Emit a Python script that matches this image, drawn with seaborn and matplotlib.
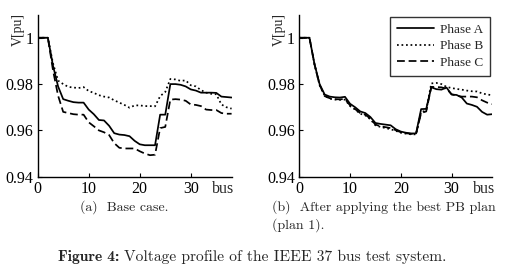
import numpy as np
import pandas as pd
import seaborn as sns
import matplotlib
matplotlib.use("Agg")
import matplotlib.pyplot as plt
import matplotlib.transforms as mtransforms

# ---------------- data ----------------
bus = list(range(0, 39))

base_a = [1.0, 1.0, 1.0, 0.988, 0.979, 0.9735, 0.9728, 0.9722, 0.972, 0.972,
          0.969, 0.967, 0.9645, 0.9643, 0.962, 0.9588, 0.9582, 0.958, 0.9575, 0.9555,
          0.954, 0.9536, 0.9536, 0.9536, 0.9668, 0.9668, 0.980, 0.980, 0.9797, 0.979,
          0.9777, 0.9772, 0.9763, 0.9763, 0.9763, 0.9762, 0.9746, 0.9744, 0.9742]
base_b = [1.0, 1.0, 1.0, 0.989, 0.9815, 0.980, 0.9788, 0.9785, 0.9783, 0.9787,
          0.977, 0.9762, 0.9752, 0.9746, 0.9742, 0.973, 0.972, 0.971, 0.9698, 0.9708,
          0.9708, 0.9705, 0.9705, 0.9704, 0.9748, 0.9766, 0.9822, 0.982, 0.9814, 0.9816,
          0.9795, 0.979, 0.9774, 0.9763, 0.9758, 0.9756, 0.9712, 0.970, 0.9694]
base_c = [1.0, 1.0, 1.0, 0.986, 0.975, 0.968, 0.9675, 0.967, 0.9668, 0.9668,
          0.9635, 0.9618, 0.960, 0.9592, 0.958, 0.9545, 0.9525, 0.9522, 0.9522, 0.9522,
          0.951, 0.950, 0.9493, 0.9495, 0.961, 0.9615, 0.9733, 0.9735, 0.9733, 0.9728,
          0.9712, 0.971, 0.9705, 0.969, 0.9688, 0.9688, 0.9675, 0.9672, 0.9672]

plan_a = [1.0, 1.0, 1.0, 0.9886, 0.980, 0.9755, 0.9746, 0.9743, 0.9742, 0.9745,
          0.9715, 0.970, 0.9682, 0.9675, 0.9658, 0.9632, 0.9628, 0.9625, 0.9622, 0.9605,
          0.9595, 0.959, 0.9587, 0.9587, 0.9692, 0.9693, 0.9786, 0.9778, 0.9776, 0.9785,
          0.9755, 0.9753, 0.9742, 0.9716, 0.971, 0.9702, 0.968, 0.9668, 0.967]
plan_b = [1.0, 1.0, 1.0, 0.9884, 0.9795, 0.975, 0.9737, 0.9733, 0.9732, 0.9733,
          0.9705, 0.969, 0.9672, 0.9665, 0.9648, 0.9622, 0.9615, 0.961, 0.9605, 0.9598,
          0.959, 0.9586, 0.9583, 0.9583, 0.968, 0.9685, 0.9803, 0.9805, 0.980, 0.9788,
          0.9783, 0.9779, 0.9776, 0.9772, 0.9769, 0.9768, 0.976, 0.9755, 0.9752]
plan_c = [1.0, 1.0, 1.0, 0.9885, 0.9797, 0.9748, 0.9739, 0.9735, 0.9734, 0.9736,
          0.9708, 0.9692, 0.9675, 0.9668, 0.9651, 0.9625, 0.9618, 0.9614, 0.961, 0.9601,
          0.9592, 0.9588, 0.9585, 0.9585, 0.9675, 0.9682, 0.9788, 0.9787, 0.9786, 0.978,
          0.9756, 0.975, 0.9746, 0.9746, 0.9746, 0.9743, 0.973, 0.972, 0.9714]

phases = ["Phase A", "Phase B", "Phase C"]
xticks = [0, 10, 20, 30]
yticks = [0.94, 0.96, 0.98, 1.0]
ytick_labels = ["0.94", "0.96", "0.98", "1"]

# ---------------- style ----------------
sns.set_style("ticks")
plt.rcParams["font.family"] = ["Liberation Serif", "DejaVu Serif"]
plt.rcParams["xtick.direction"] = "in"
plt.rcParams["ytick.direction"] = "in"

fig = plt.figure(figsize=(5.09, 2.74), dpi=100)
ax1 = fig.add_axes([0.074, 0.355, 0.381, 0.59])
ax2 = fig.add_axes([0.588, 0.355, 0.379, 0.59])

styles = {"Phase A": "-", "Phase B": (0, (1, 1.6)), "Phase C": (0, (4.5, 2.2))}

def draw(ax, series):
    for name, vals in zip(phases, series):
        sns.lineplot(x=bus, y=vals, ax=ax, color="black", linewidth=1.25,
                     linestyle=styles[name], legend=False)
    ax.set_xlim(0, 38)
    ax.set_ylim(0.94, 1.0098)
    ax.set_xticks(xticks)
    ax.set_yticks(yticks)
    ax.set_yticklabels(ytick_labels)
    ax.tick_params(labelsize=11.5, length=3, width=0.8, colors="black", pad=3)
    for s in ["left", "bottom"]:
        ax.spines[s].set_linewidth(1.0)
        ax.spines[s].set_color("black")
    sns.despine(ax=ax)
    ax.set_xlabel("")
    ax.set_ylabel("V[pu]", fontsize=10, loc="top")
    ax.yaxis.set_label_coords(-0.068, 1.01)
    trans = mtransforms.blended_transform_factory(ax.transData, ax.transAxes)
    ax.text(36.3, -0.025, "bus", transform=trans, ha="center", va="top",
            fontsize=11.5)

draw(ax1, [base_a, base_b, base_c])
draw(ax2, [plan_a, plan_b, plan_c])

handles = [plt.Line2D([], [], color="black", linewidth=1.25, linestyle=styles[p]) for p in phases]
leg = ax2.legend(handles, phases, loc="upper right", fontsize=9.5, frameon=True,
                 fancybox=False, edgecolor="black", handlelength=2.8,
                 borderaxespad=0.15, labelspacing=0.33, borderpad=0.5, handletextpad=0.5)
leg.get_frame().set_linewidth(1.0)

cap = dict(fontsize=10, va="center", ha="left", family="cmr10")
fig.text(0.157, 0.2456, "(a)  Base case.", **cap)
fig.text(0.534, 0.2456, "(b)  After applying the best PB plan", **cap)
fig.text(0.534, 0.179, "(plan 1).", **cap)

fig.canvas.draw()
t_bold = fig.text(0.114, 0.062, "Figure 4:", fontsize=11.2, va="center", ha="left",
                  family="cmb10")
fig.canvas.draw()
bb = t_bold.get_window_extent()
x_next = (bb.x1 + 5) / fig.bbox.width
fig.text(x_next, 0.062, "Voltage profile of the IEEE 37 bus test system.",
         fontsize=11.2, va="center", ha="left", family="cmr10")

fig.savefig("out.png", dpi=100, facecolor="white")
